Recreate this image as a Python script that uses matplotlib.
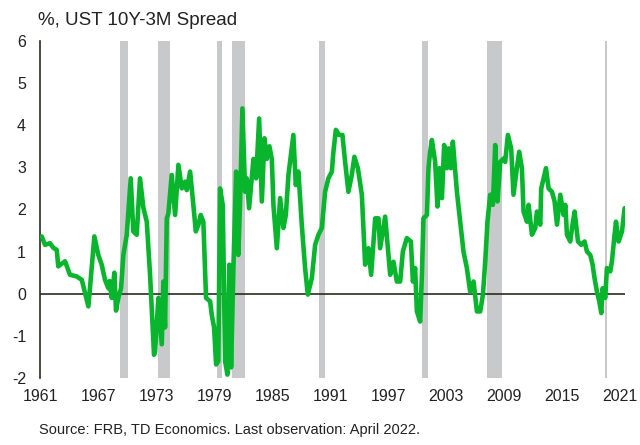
import matplotlib
matplotlib.use("Agg")
import matplotlib.pyplot as plt

plt.rcParams['font.family'] = ['Liberation Sans', 'DejaVu Sans']
plt.rcParams['axes.unicode_minus'] = False

# monthly-ish spread readings (decimal year, %)
years = [1961.86, 1962.20, 1962.71, 1963.06, 1963.41, 1963.57, 1964.27, 1964.78, 1965.48, 1966.00,
         1966.68, 1966.85, 1967.30, 1967.71, 1968.06, 1968.40, 1968.75, 1968.87, 1969.10, 1969.37,
         1969.54, 1969.78, 1970.06, 1970.30, 1970.65, 1971.06, 1971.33, 1971.68, 1972.02, 1972.37,
         1972.72, 1973.06, 1973.47, 1973.58, 1973.92, 1974.27, 1974.44, 1974.61, 1974.79, 1974.95,
         1975.30, 1975.65, 1975.99, 1976.34, 1976.68, 1976.86, 1977.20, 1977.54, 1977.79, 1978.06,
         1978.30, 1978.57, 1978.85, 1979.27, 1979.44, 1979.68, 1979.89, 1980.12, 1980.30, 1980.58,
         1980.82, 1981.06, 1981.26, 1981.44, 1981.68, 1981.96, 1982.19, 1982.37, 1982.61, 1982.89,
         1983.06, 1983.30, 1983.58, 1983.75, 1984.03, 1984.34, 1984.62, 1984.89, 1985.13, 1985.40,
         1985.65, 1985.82, 1986.17, 1986.51, 1986.85, 1987.10, 1987.37, 1987.88, 1988.13, 1988.40,
         1988.75, 1989.09, 1989.37, 1989.79, 1990.13, 1990.47, 1990.82, 1991.16, 1991.50, 1991.86,
         1992.02, 1992.27, 1992.61, 1992.95, 1993.23, 1993.57, 1993.92, 1994.19, 1994.55, 1994.96,
         1995.30, 1995.64, 1995.92, 1996.34, 1996.68, 1996.85, 1997.37, 1997.71, 1997.89, 1998.23,
         1998.58, 1998.92, 1999.20, 1999.61, 2000.03, 2000.24, 2000.47, 2000.65, 2000.99, 2001.17,
         2001.33, 2001.69, 2001.85, 2002.02, 2002.20, 2002.54, 2002.78, 2002.99, 2003.24, 2003.47,
         2003.75, 2003.92, 2004.17, 2004.37, 2004.79, 2005.13, 2005.47, 2005.82, 2006.16, 2006.51,
         2006.86, 2007.20, 2007.48, 2007.72, 2007.95, 2008.23, 2008.51, 2008.75, 2008.99, 2009.27,
         2009.61, 2009.78, 2010.06, 2010.40, 2010.64, 2010.99, 2011.23, 2011.51, 2011.68, 2012.03,
         2012.20, 2012.55, 2012.89, 2013.06, 2013.41, 2013.51, 2013.75, 2014.00, 2014.27, 2014.62,
         2014.89, 2015.14, 2015.48, 2015.82, 2016.00, 2016.17, 2016.51, 2016.69, 2016.96, 2017.31,
         2017.65, 2017.99, 2018.24, 2018.58, 2018.82, 2019.02, 2019.27, 2019.51, 2019.72, 2019.85,
         2020.13, 2020.30, 2020.65, 2020.82, 2021.09, 2021.24, 2021.51, 2021.86, 2022.13]
spread = [1.36, 1.16, 1.20, 1.09, 1.04, 0.65, 0.77, 0.45, 0.41, 0.33,
          -0.30, 0.14, 1.36, 0.92, 0.69, 0.33, 0.13, 0.30, -0.10, 0.50,
          -0.40, -0.10, 0.13, 0.92, 1.40, 2.74, 1.48, 1.40, 2.74, 2.04,
          1.71, 0.45, -1.45, -1.37, -0.10, -1.20, 0.29, -0.80, 1.79, 1.90,
          2.82, 1.87, 3.06, 2.50, 2.66, 2.46, 2.90, 2.10, 1.48, 1.64,
          1.87, 1.71, -0.10, -0.18, -0.50, -0.80, -1.68, -1.60, 2.50, 2.10,
          -1.60, -1.92, 0.69, -1.75, 0.62, 2.90, 0.92, 2.19, 4.40, 2.42,
          2.74, 2.03, 2.74, 3.20, 2.74, 4.16, 2.19, 3.69, 3.20, 3.50,
          3.20, 2.10, 1.08, 2.27, 1.56, 1.87, 2.82, 3.77, 2.58, 2.90,
          1.64, 0.61, -0.02, 0.37, 1.16, 1.40, 1.56, 2.42, 2.74, 2.90,
          3.37, 3.89, 3.77, 3.77, 3.13, 2.42, 2.82, 3.25, 2.98, 2.35,
          0.69, 1.08, 0.45, 1.79, 1.79, 1.08, 1.83, 0.92, 0.45, 0.76,
          0.29, 0.29, 1.00, 1.32, 1.24, 0.29, 0.61, -0.42, -0.66, 0.45,
          1.79, 1.87, 2.98, 3.37, 3.65, 3.13, 2.07, 2.98, 2.27, 3.53,
          2.98, 3.45, 2.98, 3.61, 2.42, 1.71, 1.00, 0.61, 0.05, 0.29,
          -0.42, -0.42, -0.02, 0.77, 1.71, 2.35, 2.11, 3.53, 2.19, 3.13,
          3.21, 3.13, 3.77, 3.45, 2.35, 2.98, 3.37, 2.98, 1.95, 1.71,
          2.11, 1.40, 1.56, 1.95, 1.64, 2.50, 2.74, 2.98, 2.50, 2.42,
          2.19, 1.64, 2.35, 1.87, 2.11, 1.40, 1.24, 1.56, 1.95, 1.24,
          1.16, 1.24, 1.00, 0.92, 0.69, 0.37, 0.05, -0.18, -0.46, 0.13,
          -0.10, 0.61, 0.53, 0.77, 1.40, 1.71, 1.24, 1.48, 2.03]

# NBER recessions (start, end)
rec_start = [1969.92, 1973.83, 1980.00, 1981.50, 1990.50, 2001.17, 2007.92, 2020.08]
rec_end = [1970.83, 1975.17, 1980.50, 1982.83, 1991.17, 2001.83, 2009.42, 2020.30]

tick_years = list(range(1961, 2022, 6))

fig = plt.figure(figsize=(6.4, 4.45), dpi=100)
ax = fig.add_axes([0.0625, 0.1506, 0.9145, 0.7573])

for s, e in zip(rec_start, rec_end):
    ax.axvspan(s, e, color='#c8c9cb', lw=0, zorder=1)

ax.axhline(0, color='#2b2b1f', lw=1.2, zorder=2)
ax.plot(years, spread, color='#0ab52e', lw=3.3, solid_joinstyle='round',
        solid_capstyle='round', zorder=3)

ax.set_xlim(1961.68, 2022.2)
ax.set_ylim(-2, 6)
ax.set_yticks(range(-2, 7))
ax.set_xticks([y + 0.68 for y in tick_years])
ax.set_xticklabels([str(y) for y in tick_years])

for side in ['top', 'right', 'bottom']:
    ax.spines[side].set_visible(False)
ax.spines['left'].set_color('#2b2b1f')
ax.spines['left'].set_linewidth(1.2)
ax.tick_params(axis='both', length=0, labelsize=11.5, colors='#222222')
ax.tick_params(axis='x', pad=8)
ax.tick_params(axis='y', pad=10)

fig.text(0.059, 0.955, '%, UST 10Y-3M Spread', fontsize=13.5, color='#222222',
         ha='left', va='center')
fig.text(0.061, 0.018, 'Source: FRB, TD Economics. Last observation: April 2022.',
         fontsize=10.5, color='#222222', ha='left', va='bottom')

fig.savefig('out.png', dpi=100)
